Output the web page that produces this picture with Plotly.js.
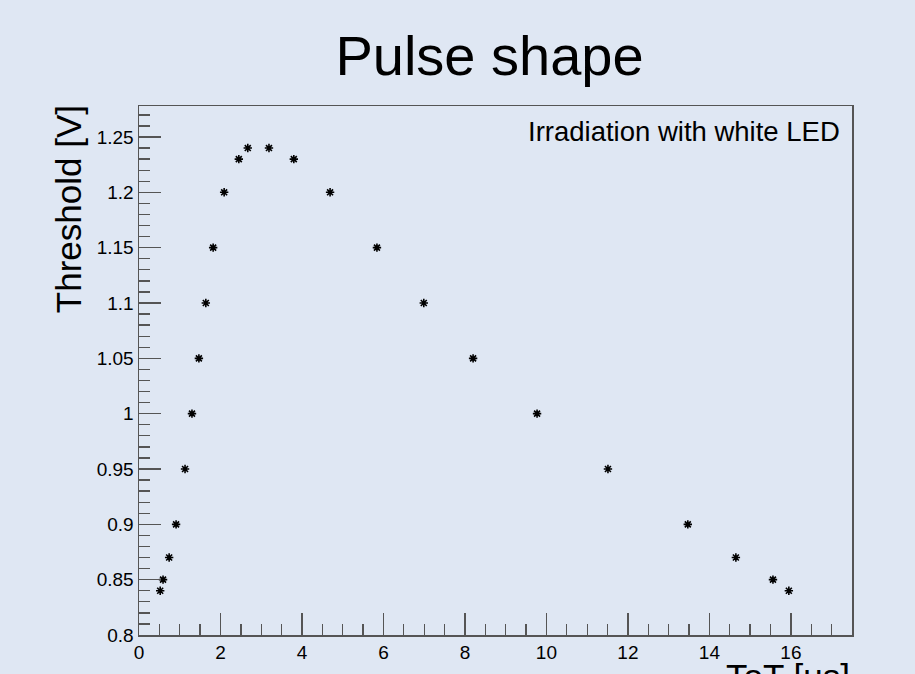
<!DOCTYPE html>
<html>
<head>
<meta charset="utf-8">
<script src="https://cdn.plot.ly/plotly-3.0.1.min.js"></script>
<style>html,body{margin:0;padding:0;background:#dfe7f3;}#chart{width:915px;height:674px;}</style>
</head>
<body>
<div id="chart"></div>
<script>
// Data
const tot = [0.52, 0.59, 0.74, 0.91, 1.13, 1.30, 1.47, 1.64, 1.82, 2.09, 2.45, 2.67, 3.19, 3.80, 4.69, 5.84, 6.99, 8.20, 9.77, 11.51, 13.47, 14.65, 15.56, 15.95];
const threshold = [0.84, 0.85, 0.87, 0.90, 0.95, 1.00, 1.05, 1.10, 1.15, 1.20, 1.23, 1.24, 1.24, 1.23, 1.20, 1.15, 1.10, 1.05, 1.00, 0.95, 0.90, 0.87, 0.85, 0.84];
const chartTitle = "Pulse shape";
const xTitle = "ToT [us]";
const yTitle = "Threshold [V]";
const legendText = "Irradiation with white LED";

const bg = '#dfe7f3';
const axisColor = '#555555';
const fontFam = '"Liberation Sans", Arial, Helvetica, sans-serif';

const trace = {
  x: tot, y: threshold, type: 'scatter', mode: 'markers',
  marker: {symbol: 'asterisk-open', size: 7, color: 'black', line: {color: 'black', width: 1.6}},
  hoverinfo: 'skip'
};

const axisCommon = {
  showgrid: false, zeroline: false, showline: true, linecolor: axisColor, linewidth: 1.5,
  mirror: true, ticks: 'inside', ticklen: 22, tickwidth: 1.3, tickcolor: axisColor,
  tickfont: {family: fontFam, size: 19, color: 'black'}
};

const layout = {
  width: 915, height: 674,
  paper_bgcolor: bg, plot_bgcolor: bg,
  margin: {l: 139, r: 63, t: 106, b: 39},
  showlegend: false,
  title: {text: chartTitle, font: {family: fontFam, size: 56, color: 'black'}, x: 0.535, xanchor: 'center', y: 0.918, yanchor: 'middle'},
  xaxis: Object.assign({}, axisCommon, {
    range: [0, 17.5], tickmode: 'linear', tick0: 0, dtick: 2,
    minor: {ticks: 'inside', ticklen: 11, tickwidth: 1.3, tickcolor: axisColor, dtick: 0.5, tick0: 0, showgrid: false}
  }),
  yaxis: Object.assign({}, axisCommon, {
    range: [0.8, 1.278], tickmode: 'linear', tick0: 0.8, dtick: 0.05,
    minor: {ticks: 'inside', ticklen: 11, tickwidth: 1.3, tickcolor: axisColor, dtick: 0.01, tick0: 0.8, showgrid: false}
  }),
  annotations: [
    {text: legendText, xref: 'paper', yref: 'paper', x: 0.986, y: 0.984, xanchor: 'right', yanchor: 'top',
     showarrow: false, font: {family: fontFam, size: 27.5, color: 'black'}},
    {text: yTitle, xref: 'paper', yref: 'paper', x: -0.0996, y: 0.805, xanchor: 'center', yanchor: 'middle',
     textangle: -90, showarrow: false, font: {family: fontFam, size: 35, color: 'black'}},
    {text: xTitle, xref: 'paper', yref: 'paper', x: 1.0, y: -0.037, xanchor: 'right', yanchor: 'top',
     showarrow: false, font: {family: fontFam, size: 35, color: 'black'}}
  ]
};

Plotly.newPlot('chart', [trace], layout, {displayModeBar: false, staticPlot: true});
</script>
</body>
</html>
